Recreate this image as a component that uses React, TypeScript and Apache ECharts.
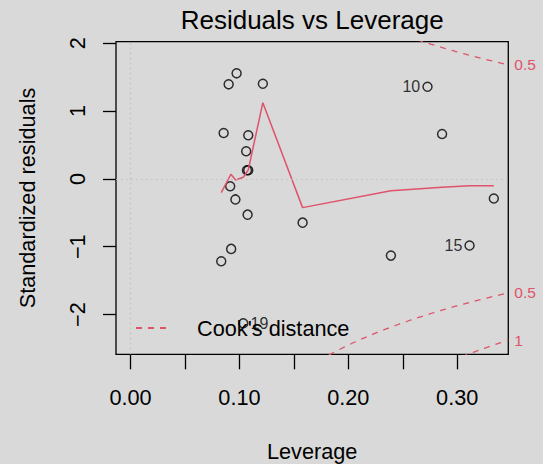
import React, { useEffect, useRef } from "react";
import * as echarts from "echarts";

// Leverage (hat values) and standardized residuals, observations 1..20
const obsLeverage = [
  0.0974, 0.0901, 0.1215, 0.0855, 0.1081, 0.1062, 0.1069, 0.1081, 0.0915, 0.2727,
  0.1075, 0.158, 0.0924, 0.0833, 0.3113, 0.0963, 0.2861, 0.3336, 0.1035, 0.2391,
];
const obsStdResid = [
  1.555, 1.393, 1.402, 0.676, 0.642, 0.406, 0.127, 0.127, -0.109, 1.358,
  -0.527, -0.645, -1.032, -1.214, -0.981, -0.303, 0.661, -0.289, -2.127, -1.131,
];
// observations whose number is printed next to the point
const flaggedObs = [10, 15, 19];

// lowess smoother through the residuals
const smoothLeverage = [0.0833, 0.0922, 0.0965, 0.1035, 0.1081, 0.1215, 0.158, 0.2391, 0.2727, 0.2861, 0.3113, 0.3336];
const smoothResid = [-0.203, 0.068, -0.016, 0.024, 0.131, 1.122, -0.424, -0.174, -0.137, -0.124, -0.1, -0.1];

// Cook's distance contour levels and number of model coefficients
const cookLevels = [0.5, 1];
const nCoef = 3;

// axes
const xTicks = [0, 0.05, 0.1, 0.15, 0.2, 0.25, 0.3];
const xTickLabels = [0, 0.1, 0.2, 0.3];
const yTicks = [-2, -1, 0, 1, 2];
const xRange = [-0.01334, 0.3469];
const yRange = [-2.585, 2.021];

const RED = "#DF536B";
const FONT = "'Liberation Sans', Arial, Helvetica, sans-serif";
const BG = "#d9d9d9";

function cookCurve(level: number, sign: number): number[][] {
  const hMax = Math.max(...obsLeverage);
  const hMin = Math.min(Math.min(...obsLeverage), hMax / 100);
  const pts: number[][] = [];
  const n = 101;
  for (let i = 0; i < n; i++) {
    const h = hMin + ((xRange[1] - hMin) * i) / (n - 1);
    pts.push([h, sign * Math.sqrt((level * nCoef * (1 - h)) / h)]);
  }
  return pts;
}

export default function App() {
  const ref = useRef<HTMLDivElement>(null);

  useEffect(() => {
    document.body.style.margin = "0";
    document.body.style.background = BG;
    if (!ref.current) return;
    const chart = echarts.init(ref.current, undefined, { renderer: "svg" });

    const xEdge = xRange[1];
    const ymult = Math.sqrt((nCoef * (1 - xEdge)) / xEdge);
    const cookMarks: { v: number; lab: string }[] = [];
    cookLevels.forEach((L) => {
      const v = Math.sqrt(L) * ymult;
      [v, -v].forEach((val) => {
        if (val >= yRange[0] && val <= yRange[1]) cookMarks.push({ v: val, lab: String(L) });
      });
    });

    const mid = (Math.min(...obsLeverage) + Math.max(...obsLeverage)) / 2;
    const scatterData = obsLeverage.map((x, i) => {
      const id = i + 1;
      const item: any = { value: [x, obsStdResid[i]] };
      if (flaggedObs.includes(id)) {
        item.label = {
          show: true,
          formatter: String(id),
          position: x > mid ? "left" : "right",
          distance: 2,
          color: "#000",
          fontSize: 16,
          fontFamily: FONT,
        };
      }
      return item;
    });

    const cookSeries: any[] = [];
    cookLevels.forEach((L) => {
      [1, -1].forEach((s) => {
        cookSeries.push({
          name: "Cook's distance",
          type: "line",
          data: cookCurve(L, s),
          symbol: "none",
          showSymbol: false,
          clip: true,
          silent: true,
          lineStyle: { color: RED, width: 1.3, type: [6, 6] },
          itemStyle: { color: RED },
        });
      });
    });

    const option: any = {
      animation: false,
      backgroundColor: BG,
      textStyle: { fontFamily: FONT },
      graphic: [
        {
          type: "text",
          x: 312.2,
          y: 7,
          style: {
            text: "Residuals vs Leverage",
            fontSize: 26,
            fontFamily: FONT,
            fill: "#000",
            align: "center",
            textAlign: "center",
            verticalAlign: "top",
            textVerticalAlign: "top",
          },
        },
      ],
      grid: {
        left: 116,
        top: 41.7,
        right: 34.7,
        bottom: 109.7,
        outerBoundsMode: "none",
        containLabel: false,
        show: true,
        borderColor: "#000",
        borderWidth: 1.3,
        backgroundColor: "transparent",
      },
      legend: {
        data: ["Cook's distance"],
        left: 135,
        top: 317,
        padding: 0,
        itemWidth: 32,
        itemHeight: 14,
        selectedMode: false,
        itemStyle: { opacity: 0 },
        textStyle: { fontSize: 21.7, fontFamily: FONT, color: "#000", padding: [0, 0, 0, 24] },
      },
      xAxis: {
        type: "value",
        min: xRange[0],
        max: xRange[1],
        name: "Leverage",
        nameLocation: "middle",
        nameGap: 86.5,
        nameTextStyle: { fontSize: 21.7, fontFamily: FONT, color: "#000" },
        axisLine: { show: false, onZero: false },
        axisTick: {
          show: true,
          inside: false,
          length: 15,
          customValues: xTicks,
          lineStyle: { color: "#000", width: 1.3 },
        },
        axisLabel: {
          customValues: xTickLabels,
          formatter: (v: number) => v.toFixed(2),
          fontSize: 21.7,
          fontFamily: FONT,
          color: "#000",
          margin: 32,
        },
        splitLine: { show: false },
      },
      yAxis: [
        {
          type: "value",
          min: yRange[0],
          max: yRange[1],
          name: "Standardized residuals",
          nameLocation: "middle",
          nameGap: 78,
          nameTextStyle: { fontSize: 21.7, fontFamily: FONT, color: "#000" },
          axisLine: { show: false, onZero: false },
          axisTick: {
            show: true,
            inside: false,
            length: 13,
            customValues: yTicks,
            lineStyle: { color: "#000", width: 1.3 },
          },
          axisLabel: {
            customValues: yTicks,
            rotate: 90,
            formatter: (v: number) => (v < 0 ? "\u2212" + Math.abs(v) : String(v)),
            fontSize: 21.7,
            fontFamily: FONT,
            color: "#000",
            margin: 28,
          },
          splitLine: { show: false },
        },
        {
          type: "value",
          position: "right",
          min: yRange[0],
          max: yRange[1],
          axisLine: { show: false, onZero: false },
          axisTick: { show: false },
          splitLine: { show: false },
          axisLabel: {
            customValues: cookMarks.map((m) => m.v),
            formatter: (v: number) => {
              const m = cookMarks.find((c) => Math.abs(c.v - v) < 1e-6);
              return m ? m.lab : "";
            },
            color: RED,
            fontSize: 15.5,
            fontFamily: FONT,
            margin: 6,
          },
        },
      ],
      series: [
        {
          type: "scatter",
          data: scatterData,
          symbol: "circle",
          symbolSize: 9,
          itemStyle: { color: "rgba(0,0,0,0)", borderColor: "#000", borderWidth: 1.5 },
          markLine: {
            silent: true,
            symbol: ["none", "none"],
            label: { show: false },
            lineStyle: { color: "#bebebe", type: [1.5, 3.5], width: 1.2 },
            data: [{ yAxis: 0 }, { xAxis: 0 }],
          },
          z: 3,
        },
        {
          type: "line",
          data: smoothLeverage.map((x, i) => [x, smoothResid[i]]),
          symbol: "none",
          showSymbol: false,
          silent: true,
          lineStyle: { color: RED, width: 1.5 },
          z: 4,
        },
        ...cookSeries,
      ],
    };

    chart.setOption(option);
    return () => chart.dispose();
  }, []);

  return <div ref={ref} style={{ width: 543, height: 464, background: BG }} />;
}
